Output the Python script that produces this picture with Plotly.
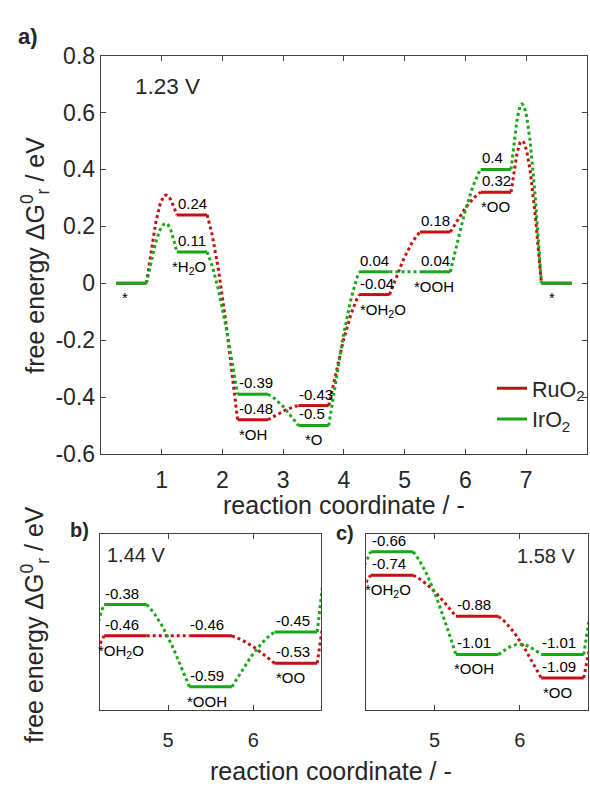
import numpy as np
import plotly.graph_objects as go

# ---------------- data ----------------
states = ["*", "*H<sub>2</sub>O", "*OH", "*O", "*OH<sub>2</sub>O", "*OOH", "*OO", "*"]

# panel a) 1.23 V, all states 0..7
ru_a = [0.0, 0.24, -0.48, -0.43, -0.04, 0.18, 0.32, 0.0]
ir_a = [0.0, 0.11, -0.39, -0.50, 0.04, 0.04, 0.40, 0.0]
ru_a_ts = [0.31, None, None, None, None, None, 0.50]
ir_a_ts = [0.21, None, None, None, None, None, 0.63]
ts_x_a = [1.07, None, None, None, None, None, 6.93]

# panel b) 1.44 V, states 3..7 (*O ... *)
ru_b = [-0.85, -0.46, -0.46, -0.53, -0.84]
ir_b = [-0.92, -0.38, -0.59, -0.45, -0.84]
ru_b_ts = [None, None, None, -0.34]
ir_b_ts = [None, None, None, -0.21]
ts_x_b = [None, None, None, 6.93]

# panel c) 1.58 V, states 3..7
ru_c = [-1.13, -0.74, -0.88, -1.09, -1.40]
ir_c = [-1.20, -0.66, -1.01, -1.01, -1.40]
ru_c_ts = [None, None, None, -0.90]
ir_c_ts = [None, None, -0.975, -0.77]
ts_x_c = [None, None, 6.0, 6.93]

a_yticks = [-0.6, -0.4, -0.2, 0, 0.2, 0.4, 0.6, 0.8]
a_yticktext = ["-0.6", "-0.4", "-0.2", "0", "0.2", "0.4", "0.6", "0.8"]
a_xticks = [1, 2, 3, 4, 5, 6, 7]
bc_xticks = [5, 6]

RED = "#C41010"
GREEN = "#16A816"
FONT = "Liberation Sans, Arial, sans-serif"
AX = "#404040"
TXT = "#262626"


def build(vals, ts, tsx, first):
    lx, ly, tx, ty = [], [], [], []
    for k, v in enumerate(vals):
        i = first + k
        lx += [i + 0.25, i + 0.75, None]
        ly += [v, v, None]
    n = 40
    for k in range(len(vals) - 1):
        i = first + k
        x0, x1 = i + 0.75, i + 1.25
        y0, y1 = vals[k], vals[k + 1]
        p = ts[k]
        if p is None:
            t = np.linspace(0, 1, n)
            if y1 >= y0:
                g = 0.5 * t + 0.5 * np.sin(np.pi * t / 2)
            else:
                g = 0.5 * t + 0.5 * (1 - np.cos(np.pi * t / 2))
            xs = x0 + (x1 - x0) * t
            ys = y0 + (y1 - y0) * g
        else:
            xp = tsx[k]
            s = np.linspace(0, 1, n)
            xa = x0 + (xp - x0) * s
            ya = y0 + (p - y0) * np.sin(np.pi * s / 2)
            xb = xp + (x1 - xp) * s[1:]
            yb = y1 + (p - y1) * np.cos(np.pi * s[1:] / 2)
            xs = np.concatenate([xa, xb])
            ys = np.concatenate([ya, yb])
        tx += list(xs) + [None]
        ty += list(ys) + [None]
    return lx, ly, tx, ty


fig = go.Figure()

panels = [
    ("x", "y", ru_a, ir_a, ru_a_ts, ir_a_ts, ts_x_a, 0),
    ("x2", "y2", ru_b, ir_b, ru_b_ts, ir_b_ts, ts_x_b, 3),
    ("x3", "y3", ru_c, ir_c, ru_c_ts, ir_c_ts, ts_x_c, 3),
]

for pi_, (xa, ya, ru, ir, rts, its, tsx, first) in enumerate(panels):
    for name, vals, ts, col in [("RuO<sub>2</sub>", ru, rts, RED), ("IrO<sub>2</sub>", ir, its, GREEN)]:
        lx, ly, tx, ty = build(vals, ts, tsx, first)
        fig.add_trace(go.Scatter(x=tx, y=ty, mode="lines", xaxis=xa, yaxis=ya,
                                 line=dict(color=col, width=3, dash="3px,3px"),
                                 showlegend=False, hoverinfo="skip"))
        fig.add_trace(go.Scatter(x=lx, y=ly, mode="lines", xaxis=xa, yaxis=ya,
                                 line=dict(color=col, width=3), name=name,
                                 legendgroup=name, showlegend=(pi_ == 0)))

annotations = []

label_sets = [
    ("x", "y", ru_a, ir_a, 0, range(1, 7)),
    ("x2", "y2", ru_b, ir_b, 3, range(1, 4)),
    ("x3", "y3", ru_c, ir_c, 3, range(1, 4)),
]
for xr, yr, ru, ir, first, idxs in label_sets:
    for k in idxs:
        i = first + k
        for v in (ru[k], ir[k]):
            annotations.append(dict(x=i + 0.25, y=v, xref=xr, yref=yr, text=str(v),
                                    xanchor="left", yanchor="bottom", showarrow=False,
                                    xshift=-1, yshift=1,
                                    font=dict(size=15, color="black", family=FONT)))

# state labels
a_offsets = [-0.10, -0.05, 0.0, 0.0, 0.15, -0.02, 0.0, -0.08]
for i, s in enumerate(states):
    annotations.append(dict(x=i + 0.5 + a_offsets[i], y=min(ru_a[i], ir_a[i]), xref="x", yref="y",
                            text=s, xanchor="center", yanchor="top", showarrow=False, yshift=-4,
                            font=dict(size=15, color="black", family=FONT)))
bc_offsets = [-0.05, -0.04, -0.06]
for xr, yr, ru, ir in [("x2", "y2", ru_b, ir_b), ("x3", "y3", ru_c, ir_c)]:
    for k in range(1, 4):
        i = 3 + k
        annotations.append(dict(x=i + 0.5 + bc_offsets[k - 1], y=min(ru[k], ir[k]), xref=xr, yref=yr,
                                text=states[i], xanchor="center", yanchor="top", showarrow=False,
                                yshift=-4, font=dict(size=15, color="black", family=FONT)))


def pa(text, x, y, size, xanchor="center", yanchor="middle", angle=0):
    annotations.append(dict(text=text, x=x / 590, y=1 - y / 787, xref="paper", yref="paper",
                            xanchor=xanchor, yanchor=yanchor, textangle=angle, showarrow=False,
                            font=dict(size=size, color=TXT, family=FONT)))


pa("<b>a)</b>", 28, 24, 22)
pa("<b>b)</b>", 80, 535, 20)
pa("<b>c)</b>", 346, 538, 20)
pa("1.23 V", 133, 76, 22.5, xanchor="left")
pa("1.44 V", 105, 561, 20, xanchor="left")
pa("1.58 V", 578, 562, 20, xanchor="right")
pa("reaction coordinate / -", 345, 509, 25)
pa("reaction coordinate / -", 332, 784, 25)
pa("free energy ΔG<sup>0</sup><sub>r</sub> / eV", 35, 250, 25, angle=-90)
pa("free energy ΔG<sup>0</sup><sub>r</sub> / eV", 35, 632, 25, angle=-90)

axcommon = dict(showline=True, linecolor=AX, linewidth=1.3, mirror="ticks", ticks="inside",
                tickcolor=AX, ticklen=5, tickwidth=1.3, showgrid=False, zeroline=False,
                tickfont=dict(size=23, color=TXT, family=FONT))


def px2(x):
    return x / 590


def py2(y):
    return 1 - y / 787


fig.update_layout(
    width=590, height=787,
    margin=dict(l=0, r=0, t=0, b=0),
    paper_bgcolor="white", plot_bgcolor="white",
    font=dict(family=FONT, color=TXT),
    xaxis=dict(axcommon, domain=[px2(101), px2(588)], range=[0, 8], tickvals=a_xticks,
               anchor="y", ticklabelstandoff=5),
    yaxis=dict(axcommon, domain=[py2(456), py2(44)], range=[-0.6, 0.8], tickvals=a_yticks,
               ticktext=a_yticktext, anchor="x"),
    xaxis2=dict(axcommon, domain=[px2(100), px2(322)], range=[4.2, 6.8], tickvals=bc_xticks,
                anchor="y2", ticklabelstandoff=12, tickfont=dict(size=20, color=TXT, family=FONT)),
    yaxis2=dict(axcommon, domain=[py2(721), py2(539)], range=[-0.65, -0.2], ticks="",
                showticklabels=False, anchor="x2"),
    xaxis3=dict(axcommon, domain=[px2(367), px2(589)], range=[4.2, 6.8], tickvals=bc_xticks,
                anchor="y3", ticklabelstandoff=12, tickfont=dict(size=20, color=TXT, family=FONT)),
    yaxis3=dict(axcommon, domain=[py2(721), py2(539)], range=[-1.2, -0.6], ticks="",
                showticklabels=False, anchor="x3"),
    legend=dict(x=px2(493), xanchor="left", y=py2(404), yanchor="middle",
                font=dict(size=21.5, color=TXT, family=FONT), bgcolor="rgba(0,0,0,0)",
                tracegroupgap=0, itemwidth=30),
    annotations=annotations,
)

fig.write_html("out.html")
